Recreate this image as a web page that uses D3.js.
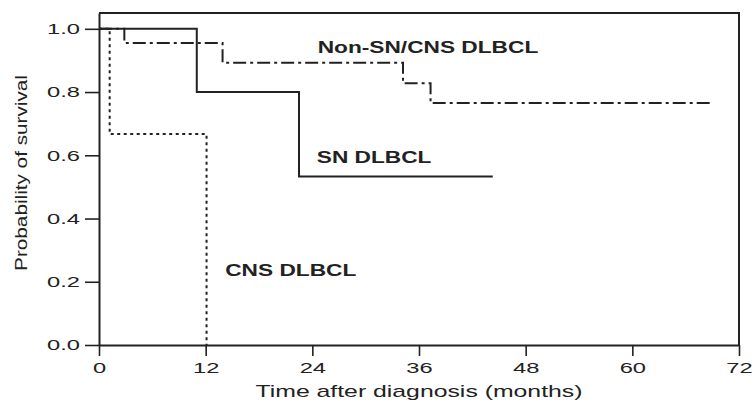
<!DOCTYPE html>
<html>
<head>
<meta charset="utf-8">
<script src="https://cdn.jsdelivr.net/npm/d3@7"></script>
<style>
  html, body { margin: 0; padding: 0; background: #fff; }
  svg { display: block; font-family: "Liberation Sans", Arial, sans-serif; }
</style>
</head>
<body>
<div id="chart"></div>
<script>
// Kaplan-Meier steps: [time in months, survival probability]; last point = end of follow-up
const nonSnSteps = [[0, 1.0], [2.85, 0.955], [13.9, 0.893], [34.2, 0.828], [37.3, 0.765], [68.9, 0.765]];
const snSteps = [[0, 1.0], [11.0, 0.8], [22.5, 0.533], [44.3, 0.533]];
const cnsSteps = [[0, 1.0], [1.2, 0.667], [12.1, 0.0]];

const xTicks = [0, 12, 24, 36, 48, 60, 72];
const yTicks = [0, 0.2, 0.4, 0.6, 0.8, 1.0];

const curveLabels = [
  { text: 'Non-SN/CNS DLBCL', t: 24.6, s: 0.925 },
  { text: 'SN DLBCL', t: 24.5, s: 0.576 },
  { text: 'CNS DLBCL', t: 14.2, s: 0.218 }
];

const width = 755, height = 403;
const margin = { top: 13, right: 16, bottom: 58, left: 99 };
const innerWidth = width - margin.left - margin.right;
const innerHeight = height - margin.top - margin.bottom;
const ink = '#222';

const svg = d3.select('#chart').append('svg')
  .attr('width', width)
  .attr('height', height);

const g = svg.append('g')
  .attr('transform', `translate(${margin.left},${margin.top})`);

const x = d3.scaleLinear().domain([0, 72]).range([0, innerWidth]);
const y = d3.scaleLinear().domain([0, 1.05]).range([innerHeight, 0]);

// the font in the figure is wide: stretch glyphs along the reading direction,
// scaling around the text's own x so that its anchor stays put
function stretch(sel, k) {
  sel.each(function() {
    const el = d3.select(this);
    const ax = +el.attr('x') || 0;
    const prev = el.attr('transform') || '';
    el.attr('transform', `${prev} translate(${ax},0) scale(${k},1) translate(${-ax},0)`);
  });
}

// frame (top and right)
g.append('path')
  .attr('d', `M0,0H${innerWidth}V${innerHeight}`)
  .attr('fill', 'none')
  .attr('stroke', ink)
  .attr('stroke-width', 2);

// AXES
const xAxis = g.append('g')
  .attr('transform', `translate(0,${innerHeight})`)
  .call(d3.axisBottom(x).tickValues(xTicks).tickSize(11).tickSizeOuter(0).tickPadding(6));

const yAxis = g.append('g')
  .call(d3.axisLeft(y).tickValues(yTicks).tickFormat(d3.format('.1f')).tickSize(14).tickSizeOuter(0).tickPadding(5));

[xAxis, yAxis].forEach(a => {
  a.select('.domain').attr('stroke', ink).attr('stroke-width', 2);
  a.selectAll('.tick line').attr('stroke', ink).attr('stroke-width', 1.6);
  a.selectAll('.tick text')
    .attr('fill', ink)
    .attr('font-size', 15)
    .attr('font-family', '"Liberation Sans", Arial, sans-serif');
});
xAxis.selectAll('.tick text').attr('dy', '0.71em');
stretch(xAxis.selectAll('.tick text'), 1.58);
stretch(yAxis.selectAll('.tick text'), 1.58);

// axis titles
const xTitle = g.append('text')
  .attr('x', innerWidth / 2)
  .attr('y', innerHeight + 52)
  .attr('text-anchor', 'middle')
  .attr('fill', ink)
  .attr('font-size', 16)
  .text('Time after diagnosis (months)');
stretch(xTitle, 1.55);

const yTitle = g.append('text')
  .attr('transform', `translate(${27 - margin.left},${173 - margin.top}) rotate(-90)`)
  .attr('text-anchor', 'middle')
  .attr('fill', ink)
  .attr('font-size', 17)
  .text('Probability of survival');
stretch(yTitle, 1.22);

// CURVES
const line = d3.line()
  .x(d => x(d[0]))
  .y(d => y(d[1]))
  .curve(d3.curveStepAfter);

const series = [
  { steps: nonSnSteps, dash: '13,4,3,4' },
  { steps: snSteps, dash: null },
  { steps: cnsSteps, dash: '3,3.5' }
];

g.selectAll('.km-line')
  .data(series)
  .join('path')
  .attr('class', 'km-line')
  .attr('fill', 'none')
  .attr('stroke', ink)
  .attr('stroke-width', 2)
  .attr('stroke-dasharray', d => d.dash)
  .attr('d', d => line(d.steps));

// curve labels
g.selectAll('.curve-label')
  .data(curveLabels)
  .join('text')
  .attr('class', 'curve-label')
  .attr('x', d => x(d.t))
  .attr('y', d => y(d.s))
  .attr('fill', ink)
  .attr('font-size', 16)
  .attr('font-weight', 'bold')
  .text(d => d.text)
  .call(sel => stretch(sel, 1.42));
</script>
</body>
</html>
